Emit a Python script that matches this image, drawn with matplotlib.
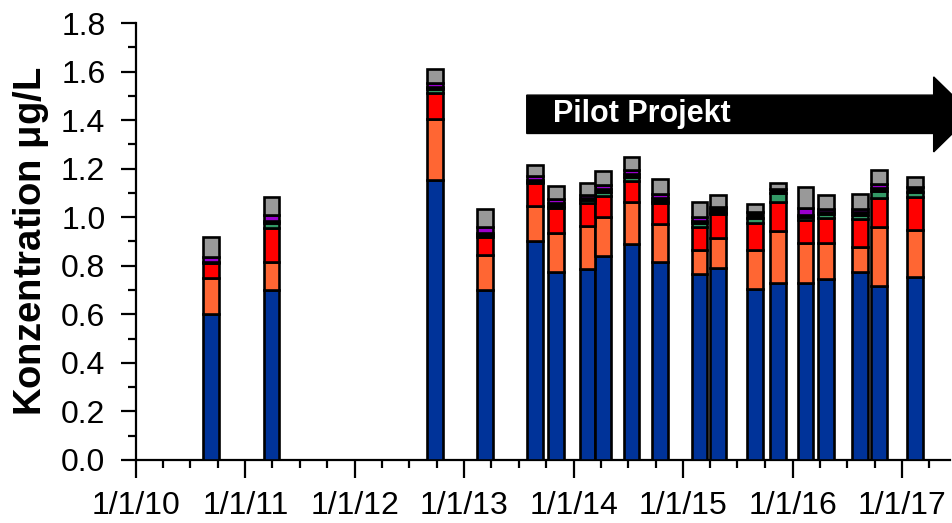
import matplotlib.pyplot as plt
import matplotlib.dates as mdates
from matplotlib.patches import Polygon
import pandas as pd

plt.rcParams['font.family'] = ['Liberation Sans', 'DejaVu Sans']

# sampling dates
dates = pd.to_datetime([
    "2010-09-09", "2011-03-29", "2012-09-24", "2013-03-10", "2013-08-25",
    "2013-11-03", "2014-02-16", "2014-04-09", "2014-07-12", "2014-10-15",
    "2015-02-24", "2015-04-27", "2015-08-29", "2015-11-14", "2016-02-13",
    "2016-04-22", "2016-08-14", "2016-10-15", "2017-02-13",
])

# cumulative tops per bar (blue, orange, red, green, black, purple, gray)
blue_top   = [0.600, 0.700, 1.153, 0.700, 0.900, 0.775, 0.788, 0.840, 0.889, 0.816,
              0.765, 0.789, 0.703, 0.730, 0.730, 0.744, 0.774, 0.718, 0.752]
orange_top = [0.750, 0.817, 1.404, 0.844, 1.046, 0.937, 0.965, 0.999, 1.061, 0.972,
              0.865, 0.913, 0.865, 0.943, 0.895, 0.895, 0.878, 0.958, 0.947]
red_top    = [0.810, 0.955, 1.511, 0.919, 1.142, 1.039, 1.057, 1.088, 1.150, 1.059,
              0.960, 1.013, 0.977, 1.064, 0.988, 0.998, 0.992, 1.080, 1.084]
green_top  = [0.810, 0.975, 1.527, 0.925, 1.145, 1.045, 1.070, 1.105, 1.165, 1.065,
              0.975, 1.022, 0.998, 1.098, 1.000, 1.015, 1.010, 1.110, 1.105]
black_top  = [0.815, 0.985, 1.535, 0.935, 1.155, 1.060, 1.080, 1.115, 1.180, 1.080,
              0.985, 1.032, 1.020, 1.118, 1.010, 1.020, 1.020, 1.120, 1.125]
purple_top = [0.838, 1.010, 1.552, 0.959, 1.170, 1.075, 1.090, 1.132, 1.194, 1.095,
              1.000, 1.043, 1.020, 1.118, 1.039, 1.035, 1.033, 1.135, 1.125]
gray_top   = [0.920, 1.085, 1.610, 1.035, 1.217, 1.129, 1.142, 1.191, 1.249, 1.156,
              1.062, 1.091, 1.054, 1.142, 1.125, 1.091, 1.095, 1.194, 1.164]

tops = [blue_top, orange_top, red_top, green_top, black_top, purple_top, gray_top]
colors = ["#003399", "#FF6633", "#FF0000", "#339966", "#000000", "#9900CC", "#999999"]

fig = plt.figure(figsize=(9.53, 5.23), dpi=100)
ax = fig.add_axes([0.1427, 0.1205, 0.8543, 0.8355])

width = pd.Timedelta(days=52)
prev = [0.0] * len(dates)
for top, col in zip(tops, colors):
    seg = [t - p for t, p in zip(top, prev)]
    ax.bar(dates, seg, width=width, bottom=prev, color=col,
           edgecolor="black", linewidth=1.9, zorder=3)
    prev = top

# project arrow
x0 = mdates.date2num(pd.Timestamp("2013-07-28"))
xh = mdates.date2num(pd.Timestamp("2017-04-16"))
xt = mdates.date2num(pd.Timestamp("2017-08-22"))
shaft_lo, shaft_hi, head_lo, head_hi = 1.345, 1.503, 1.269, 1.578
mid = (shaft_lo + shaft_hi) / 2
arrow = Polygon([(x0, shaft_lo), (xh, shaft_lo), (xh, head_lo), (xt, mid),
                 (xh, head_hi), (xh, shaft_hi), (x0, shaft_hi)],
                closed=True, facecolor="black", edgecolor="black",
                clip_on=False, zorder=4)
ax.add_patch(arrow)
ax.text(mdates.date2num(pd.Timestamp("2013-10-23")), mid, "Pilot Projekt",
        color="white", fontsize=22, fontweight="bold", ha="left", va="center",
        zorder=5)

ax.set_xlim(pd.Timestamp("2010-01-01"), pd.Timestamp("2017-06-10"))
ax.set_ylim(0, 1.8)

ax.xaxis.set_major_locator(mdates.YearLocator())
ax.xaxis.set_minor_locator(mdates.MonthLocator(bymonth=[1, 4, 7, 10]))
ax.xaxis.set_major_formatter(mdates.DateFormatter("%-m/%-d/%y"))
ax.set_yticks([i * 0.2 for i in range(10)])
ax.set_yticks([0.1 + i * 0.2 for i in range(9)], minor=True)
ax.yaxis.set_major_formatter(plt.FormatStrFormatter("%.1f"))

for s in ["top", "right"]:
    ax.spines[s].set_visible(False)
for s in ["left", "bottom"]:
    ax.spines[s].set_linewidth(1.6)

ax.tick_params(axis="y", which="major", length=11, width=1.6, labelsize=23, pad=11)
ax.tick_params(axis="y", which="minor", length=6, width=1.6)
ax.tick_params(axis="x", which="major", length=13, width=1.6, labelsize=23, pad=9)
ax.tick_params(axis="x", which="minor", length=6, width=1.6)

ax.set_ylabel("Konzentration $\\mathregular{\\mu}$g/L", fontsize=27.5,
              fontweight="bold", labelpad=7)

fig.savefig("out.png", dpi=100)
